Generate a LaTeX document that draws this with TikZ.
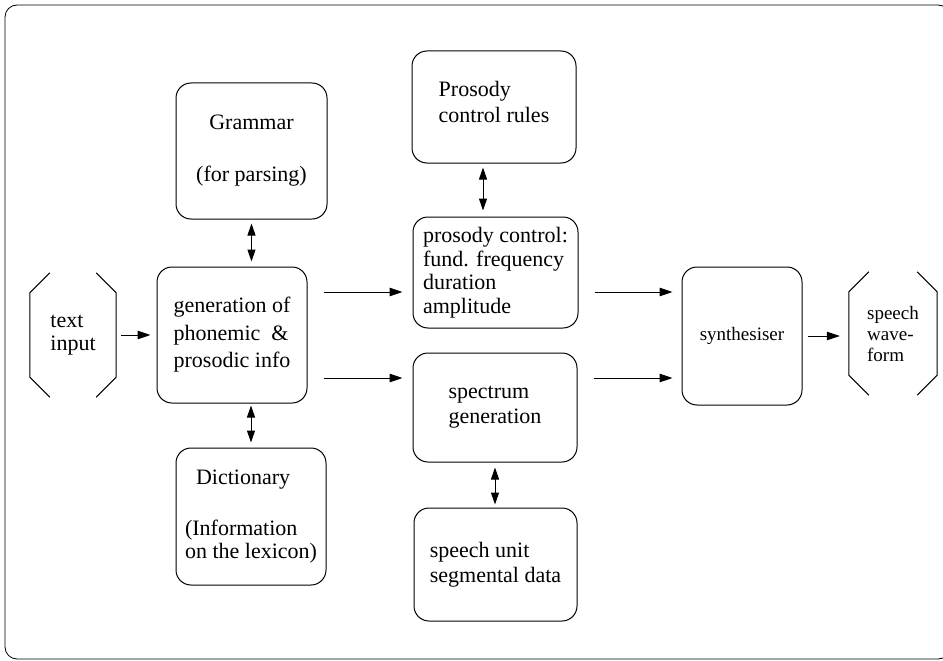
\documentclass[tikz,border=0pt]{standalone}
\usepackage{fontspec}
\setmainfont{Liberation Serif}
\newfontfamily\diagfont{Liberation Serif}
\usetikzlibrary{arrows.meta}

\begin{document}
\begin{tikzpicture}[x=1pt,y=1pt,yscale=-1,xscale=1,
  rbox/.style={draw, line width=1pt, rounded corners=15pt, inner sep=0pt, align=left, font=\diagfont\fontsize{22}{23.5}\selectfont},
  brk/.style={inner sep=0pt, align=left, font=\diagfont\fontsize{22}{23.5}\selectfont},
  arr/.style={-{Triangle[length=13pt,width=8.5pt]}, line width=1pt},
  darr/.style={{Triangle[length=12pt,width=8pt]}-{Triangle[length=12pt,width=8pt]}, line width=1pt}]
\useasboundingbox (0,0) rectangle (943,661);

%Frame
\draw [line width=0.8pt, rounded corners=12pt] (5,5) rectangle (950,659);

%Bracket: text input
\node [brk, minimum width=86, minimum height=124] (tin) at (73,335) {text\\input};
\draw [line width=1pt] ([xshift=20pt]tin.north west) -- ([yshift=20pt]tin.north west) -- ([yshift=-20pt]tin.south west) -- ([xshift=20pt]tin.south west);
\draw [line width=1pt] ([xshift=-20pt]tin.north east) -- ([yshift=20pt]tin.north east) -- ([yshift=-20pt]tin.south east) -- ([xshift=-20pt]tin.south east);

%Rounded Rect: left column
\node [rbox, align=center, font=\diagfont\fontsize{22}{26}\selectfont, minimum width=151, minimum height=136] (gram) at (251.5,151) {Grammar\\[26pt](for parsing)};
\node [rbox, font=\diagfont\fontsize{22}{27.5}\selectfont, minimum width=150, minimum height=136] (gen) at (232,335) {generation of\\phonemic \ \&\\prosodic info};
\node [rbox, minimum width=150, minimum height=137] (dict) at (251,516.5) {\hspace*{11pt}Dictionary\\[27.5pt](Information\\on the lexicon)};

%Rounded Rect: middle column
\node [rbox, font=\diagfont\fontsize{22}{26}\selectfont, minimum width=164, minimum height=112] (pcr) at (494,107) {Prosody\\control rules\\[-16pt]};
\node [rbox, minimum width=165, minimum height=111] (pc) at (495.5,272.5) {prosody control:\\fund. frequency\\duration\\amplitude};
\node [rbox, font=\diagfont\fontsize{22}{25}\selectfont, minimum width=164, minimum height=109] (spec) at (495,407.5) {spectrum\\generation};
\node [rbox, font=\diagfont\fontsize{22}{25}\selectfont, minimum width=163, minimum height=113] (unit) at (495.5,564.5) {speech unit\\segmental data};

%Rounded Rect: synthesiser
\node [rbox, font=\diagfont\fontsize{19}{21}\selectfont, minimum width=120, minimum height=138] (syn) at (742,336) {synthesiser};

%Bracket: speech waveform
\node [brk, font=\diagfont\fontsize{19}{21}\selectfont, minimum width=88, minimum height=123] (wave) at (893,333.5) {speech\\wave-\\form};
\draw [line width=1pt] ([xshift=20pt]wave.north west) -- ([yshift=20pt]wave.north west) -- ([yshift=-20pt]wave.south west) -- ([xshift=20pt]wave.south west);
\draw [line width=1pt] ([xshift=-20pt]wave.north east) -- ([yshift=20pt]wave.north east) -- ([yshift=-20pt]wave.south east) -- ([xshift=-20pt]wave.south east);

%Connectors
\coordinate (hi) at ([yshift=-43pt]gen.east);
\coordinate (lo) at ([yshift=43pt]gen.east);
\coordinate (pcx) at ([xshift=-11pt]pcr.south);
\draw [arr, shorten <=5pt, shorten >=6pt] (tin.east) -- (gen.west);
\draw [arr, shorten <=16pt, shorten >=10pt] (hi) -- (hi -| pc.west);
\draw [arr, shorten <=16pt, shorten >=10pt] (lo) -- (lo -| spec.west);
\draw [arr, shorten <=16pt, shorten >=9pt] (hi -| pc.east) -- (hi -| syn.west);
\draw [arr, shorten <=16pt, shorten >=9pt] (lo -| spec.east) -- (lo -| syn.west);
\draw [arr, shorten <=5pt, shorten >=9pt] (syn.east) -- (syn.east -| wave.west);
\draw [darr, shorten <=4pt, shorten >=5pt] (gram.south) -- (gram.south |- gen.north);
\draw [darr, shorten <=2pt, shorten >=5pt] (dict.north |- gen.south) -- (dict.north);
\draw [darr, shorten <=4pt, shorten >=6pt] (pcx) -- (pcx |- pc.north);
\draw [darr, shorten <=5pt, shorten >=3pt] (spec.south) -- (spec.south |- unit.north);

\end{tikzpicture}
\end{document}
